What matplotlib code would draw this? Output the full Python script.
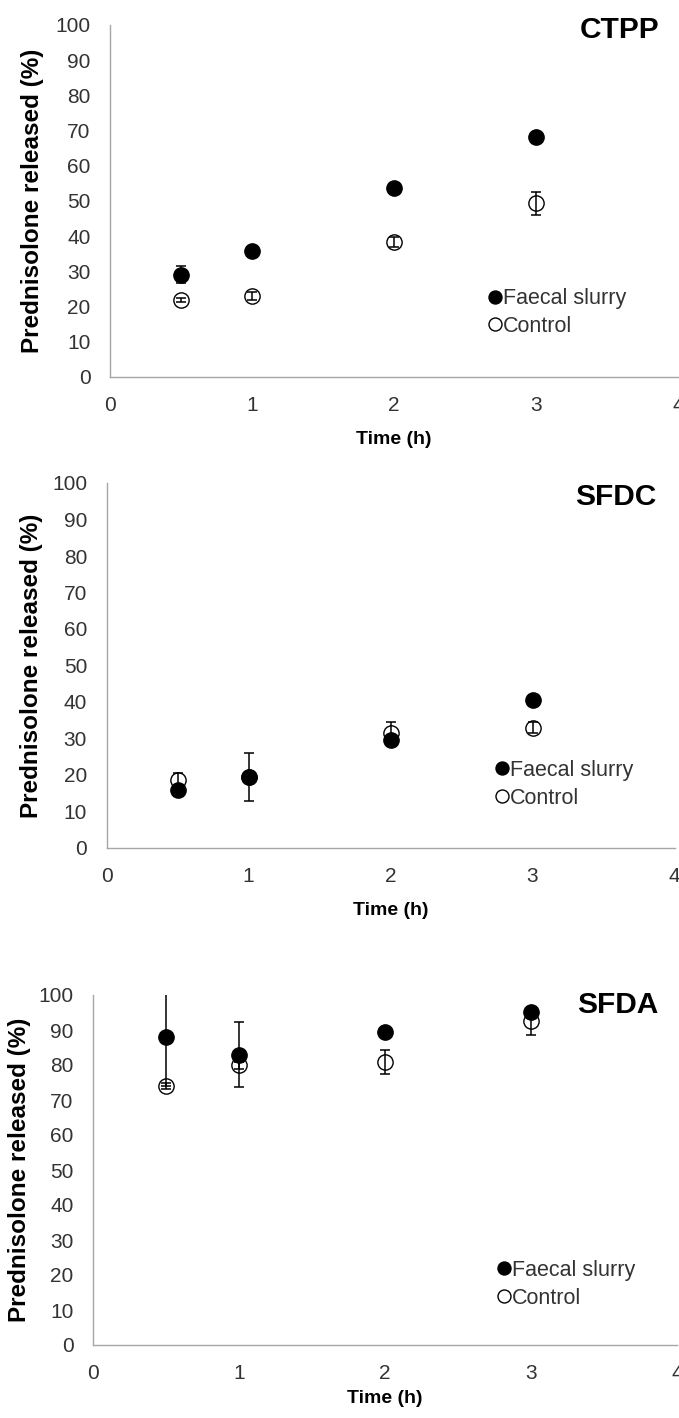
import matplotlib.pyplot as plt

plt.rcParams["font.family"] = ["Liberation Sans", "DejaVu Sans"]

time_h = [0.5, 1, 2, 3]

ctpp_faecal = [29.1, 35.8, 53.6, 68.3]
ctpp_faecal_err = [2.5, 0.8, 0.8, 0.8]
ctpp_control = [21.9, 23.0, 38.4, 49.3]
ctpp_control_err = [0.5, 1.2, 1.5, 3.3]

sfdc_faecal = [15.9, 19.5, 29.5, 40.5]
sfdc_faecal_err = [0.8, 6.6, 0.8, 0.8]
sfdc_control = [18.5, 19.4, 31.5, 33.0]
sfdc_control_err = [2.0, 1.0, 2.9, 1.6]

sfda_faecal = [88.0, 83.0, 89.3, 95.2]
sfda_faecal_err = [14.0, 9.3, 1.0, 1.0]
sfda_control = [74.0, 80.0, 80.9, 92.7]
sfda_control_err = [0.8, 1.0, 3.4, 4.0]

W, H = 679, 1418
SPINE = "#A6A6A6"
TICK = "#333333"


def draw_panel(ax, title, faecal, faecal_err, control, control_err,
               ylab_x, xlab_y, title_y, legend_pos):
    """One release panel, Excel-ish look."""

    c_line, = ax.plot(time_h, control, linestyle="", marker="o", ms=11,
                      mfc="white", mec="black", mew=1.0, zorder=2)
    ax.errorbar(time_h, control, yerr=control_err, fmt="none", ecolor="black",
                elinewidth=1.1, capsize=3.6, capthick=1.1, zorder=3)
    f_line, = ax.plot(time_h, faecal, linestyle="", marker="o", ms=11,
                      mfc="black", mec="black", zorder=4)
    ax.errorbar(time_h, faecal, yerr=faecal_err, fmt="none", ecolor="black",
                elinewidth=1.1, capsize=3.6, capthick=1.1, zorder=5)

    ax.set_xlim(0, 4)
    ax.set_ylim(0, 100)
    ax.set_xticks([0, 1, 2, 3, 4])
    ax.set_yticks(range(0, 101, 10))

    for side in ["top", "right"]:
        ax.spines[side].set_visible(False)
    for side in ["left", "bottom"]:
        ax.spines[side].set_color(SPINE)
        ax.spines[side].set_linewidth(1.0)

    ax.tick_params(axis="y", length=0, pad=14, labelsize=15, labelcolor=TICK)
    ax.tick_params(axis="x", length=0, pad=14, labelsize=15, labelcolor=TICK)

    ax.set_ylabel("Prednisolone released (%)", fontsize=17.5, fontweight="bold")
    ax.yaxis.set_label_coords(ylab_x, 0.5)
    ax.set_xlabel("Time (h)", fontsize=14, fontweight="bold")
    ax.xaxis.set_label_coords(0.5, xlab_y)

    ax.text(0.968, title_y, title, transform=ax.transAxes, ha="right",
            va="center", fontsize=21.5, fontweight="bold")

    ax.legend([f_line, c_line], ["Faecal slurry", "Control"],
              loc="center left", bbox_to_anchor=legend_pos, frameon=False,
              fontsize=15.5, markerscale=0.85, handlelength=0.5,
              handletextpad=0.12, labelspacing=0.32, borderpad=0,
              borderaxespad=0, labelcolor=TICK)


fig = plt.figure(figsize=(W / 100, H / 100), dpi=100)

ax1 = fig.add_axes([110 / W, 1 - 377 / H, 568 / W, 352 / H])
draw_panel(ax1, "CTPP", ctpp_faecal, ctpp_faecal_err, ctpp_control,
           ctpp_control_err, -0.116, -0.153, 0.986, (0.668, 0.183))

ax2 = fig.add_axes([106.5 / W, 1 - 848 / H, 568 / W, 365 / H])
draw_panel(ax2, "SFDC", sfdc_faecal, sfdc_faecal_err, sfdc_control,
           sfdc_control_err, -0.112, -0.148, 0.962, (0.687, 0.175))

ax3 = fig.add_axes([93 / W, 1 - 1345 / H, 584 / W, 350 / H])
draw_panel(ax3, "SFDA", sfda_faecal, sfda_faecal_err, sfda_control,
           sfda_control_err, -0.106, -0.129, 0.971, (0.695, 0.174))

fig.savefig("out.png", dpi=100)
